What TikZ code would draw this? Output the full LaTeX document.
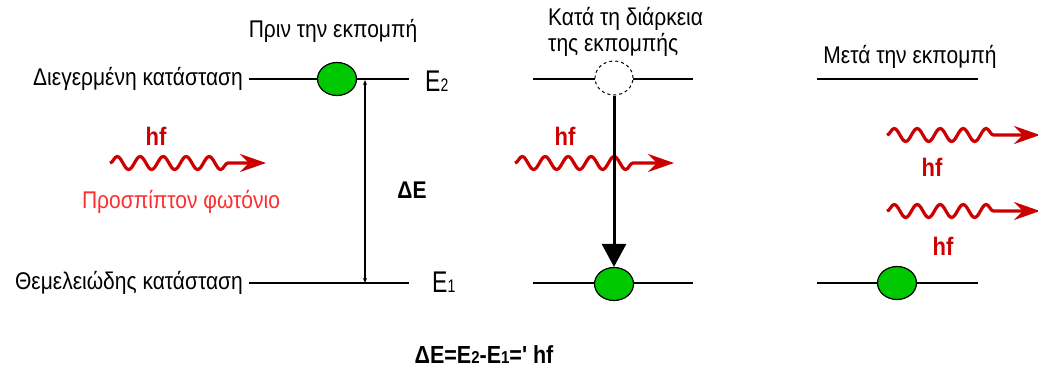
\documentclass[tikz,border=0pt]{standalone}
\usepackage{fontspec}
\setmainfont{Liberation Sans}
\newfontfamily\rawquotefont{Liberation Sans}[Ligatures=TeXOff]
\usetikzlibrary{decorations.pathmorphing,arrows.meta,shapes.geometric}
\definecolor{phred}{RGB}{204,0,0}
\definecolor{lred}{RGB}{255,45,45}
\definecolor{egreen}{RGB}{0,200,0}
\newcommand{\talltxt}[2][1.15]{\scalebox{1}[#1]{#2}}
\begin{document}
\begin{tikzpicture}[x=1pt,y=-1pt,
  level/.style={line width=1.7pt},
  electron/.style={ellipse,draw,line width=1.2pt,fill=egreen,minimum width=39pt,minimum height=33pt,inner sep=0pt},
  hole/.style={ellipse,draw,dashed,line width=1pt,fill=white,minimum width=38pt,minimum height=34pt,inner sep=0pt},
  lbl/.style={font=\fontsize{21}{25}\selectfont,inner sep=0pt},
  photon/.style={draw=phred,line width=3.2pt,decorate,decoration={snake,segment length=23pt,amplitude=6.5pt,post length=36pt},-{Stealth[length=26pt,width=18pt,inset=9pt,fill=phred]}},
  hflbl/.style={text=phred,font=\bfseries\fontsize{22}{24}\selectfont,inner sep=0pt},
  elbl/.style={anchor=west,font=\fontsize{23}{26}\selectfont,inner sep=0pt}]
\useasboundingbox (0,0) rectangle (1038,369);
% ---------- left: before ----------
\coordinate (L2a) at (249,79); \coordinate (L2b) at (409,79);
\coordinate (L1a) at (249,283); \coordinate (L1b) at (409,283);
\draw[level] (L2a) -- (L2b);
\draw[level] (L1a) -- (L1b);
\node[electron] (eL) at (337,79) {};
\node[lbl,anchor=east] (exc) at (243,79) {\talltxt{Διεγερμένη κατάσταση}};
\node[lbl,anchor=east] (gnd) at (243,283) {\talltxt{Θεμελειώδης κατάσταση}};
\node[lbl] (before) at (333,31) {\talltxt{Πριν την εκπομπή}};
\node[elbl] (E2) at (425,81) {\talltxt[1.3]{E{\fontsize{14}{14}\selectfont 2}}};
\node[elbl] (E1) at (432,282) {\talltxt[1.3]{E{\fontsize{14}{14}\selectfont 1}}};
\coordinate (dTop) at (365,80); \coordinate (dBot) at (365,283);
\draw[line width=1.5pt,{Stealth[length=5pt,width=4pt]}-{Stealth[length=5pt,width=4pt]}] (dTop) -- (dBot);
\node[font=\bfseries\fontsize{21}{23}\selectfont,inner sep=0pt] (dE) at (412,190) {\talltxt{ΔΕ}};
\coordinate (p1s) at (110,163); \coordinate (p1e) at (266,163);
\draw[photon] (p1s) -- (p1e);
\node[hflbl] (hf1) at (156,136) {\talltxt{hf}};
\node[lbl,text=lred] (inc) at (181,202) {\talltxt{Προσπίπτον φωτόνιο}};
% ---------- middle: during ----------
\coordinate (M2a) at (533,79); \coordinate (M2b) at (693,79);
\coordinate (M1a) at (533,283); \coordinate (M1b) at (693,283);
\draw[level] (M2a) -- (M2b);
\draw[level] (M1a) -- (M1b);
\node[hole] (eM2) at (614,78) {};
\node[electron] (eM1) at (614,284) {};
\node[lbl,anchor=west] (during) at (548,33) {\talltxt{\begin{tabular}{@{}l@{}}Κατά τη διάρκεια\\[-2pt]της εκπομπής\end{tabular}}};
\coordinate (p2s) at (515,163); \coordinate (p2e) at (674,163);
\draw[photon] (p2s) -- (p2e);
\node[hflbl] (hf2) at (565,136) {\talltxt{hf}};
\draw[line width=3pt,-{Triangle[length=23pt,width=24pt]}] (eM2.south) -- (eM1.north);
% ---------- right: after ----------
\coordinate (R2a) at (817,79); \coordinate (R2b) at (978,79);
\coordinate (R1a) at (817,283); \coordinate (R1b) at (978,283);
\draw[level] (R2a) -- (R2b);
\draw[level] (R1a) -- (R1b);
\node[electron] (eR) at (897,283) {};
\node[lbl] (after) at (910,57) {\talltxt{Μετά την εκπομπή}};
\coordinate (p3s) at (887,135); \coordinate (p3e) at (1040,135);
\coordinate (p4s) at (887,211); \coordinate (p4e) at (1040,211);
\draw[photon] (p3s) -- (p3e);
\draw[photon] (p4s) -- (p4e);
\node[hflbl] (hf3) at (932,167) {\talltxt{hf}};
\node[hflbl] (hf4) at (943,246) {\talltxt{hf}};
% ---------- formula ----------
\node[font=\bfseries\fontsize{21.5}{23}\selectfont,inner sep=0pt] (formula) at (484,355) {\talltxt{ΔΕ=Ε{\fontsize{15}{15}\selectfont 2}-Ε{\fontsize{15}{15}\selectfont 1}={\rawquotefont\bfseries '} hf}};
\end{tikzpicture}
\end{document}
